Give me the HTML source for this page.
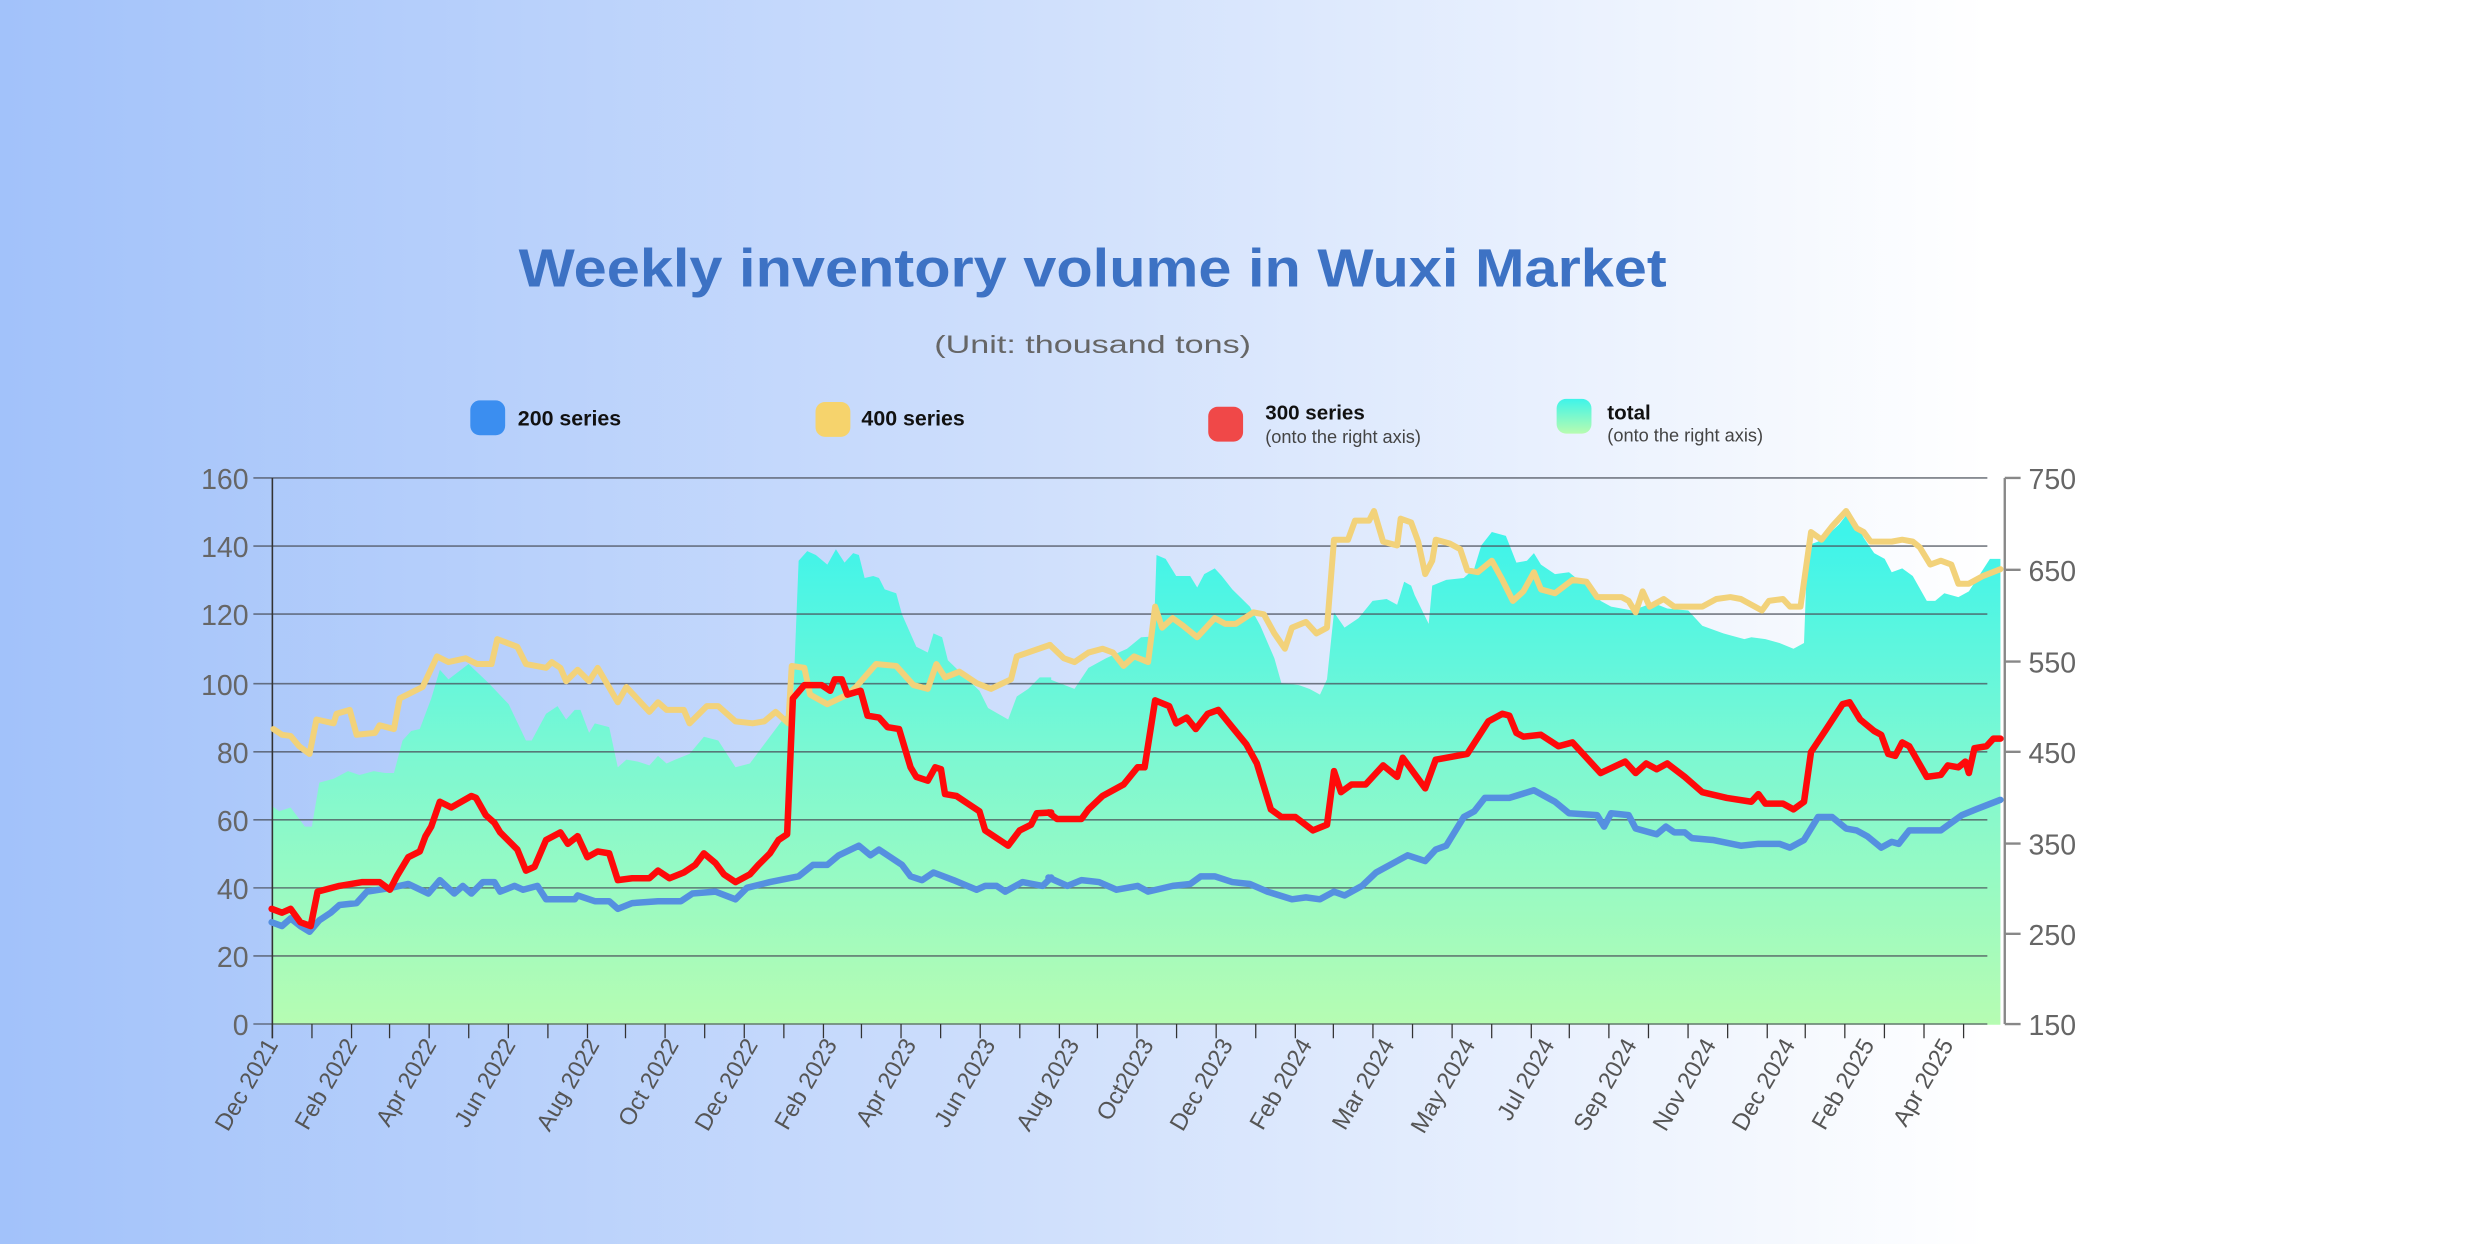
<!DOCTYPE html>
<html><head><meta charset="utf-8"><style>html,body{margin:0;padding:0;overflow:hidden}svg{display:block}</style></head>
<body>
<svg width="2483" height="1244" viewBox="0 0 1568 786" preserveAspectRatio="none" xmlns="http://www.w3.org/2000/svg" font-family="'Liberation Sans', sans-serif">
<defs>
<linearGradient id="bg" x1="0" y1="0" x2="1" y2="0">
<stop offset="0" stop-color="#a2c2fa"/><stop offset="0.4" stop-color="#cddefc"/><stop offset="0.8" stop-color="#ffffff"/><stop offset="1" stop-color="#ffffff"/>
</linearGradient>
<linearGradient id="area" gradientUnits="userSpaceOnUse" x1="0" y1="220" x2="0" y2="1503">
<stop offset="0" stop-color="#3ef4ea"/><stop offset="0.45" stop-color="#7cf8d2"/><stop offset="1" stop-color="#b6fcb2"/>
</linearGradient>
<linearGradient id="leg" x1="0" y1="0" x2="0" y2="1"><stop offset="0" stop-color="#3ef4ea"/><stop offset="1" stop-color="#b8fcb0"/></linearGradient>
</defs>
<rect width="1568" height="786" fill="url(#bg)"/>
<text x="690" y="181" text-anchor="middle" font-size="34" font-weight="bold" fill="#3d72c4" textLength="725" lengthAdjust="spacingAndGlyphs">Weekly inventory volume in Wuxi Market</text>
<text x="690" y="223" text-anchor="middle" font-size="16" fill="#666" textLength="200" lengthAdjust="spacingAndGlyphs">(Unit: thousand tons)</text>
<rect x="297" y="253" width="22" height="22" rx="6" fill="#3b8ef0"/>
<text x="327" y="269" font-size="13.5" font-weight="bold" fill="#111">200 series</text>
<rect x="515" y="254" width="22" height="22" rx="6" fill="#f6d36c"/>
<text x="544" y="269" font-size="13.5" font-weight="bold" fill="#111">400 series</text>
<rect x="763" y="257" width="22" height="22" rx="6" fill="#f04848"/>
<text x="799" y="265" font-size="13" font-weight="bold" fill="#111">300 series</text>
<text x="799" y="280" font-size="11.5" fill="#444">(onto the right axis)</text>
<rect x="983" y="252" width="22" height="22" rx="6" fill="url(#leg)"/>
<text x="1015" y="265" font-size="13" font-weight="bold" fill="#111">total</text>
<text x="1015" y="279" font-size="11.5" fill="#444">(onto the right axis)</text>

<g transform="translate(94.7,284.2) scale(0.3625,0.2417)">
<polygon fill="url(#area)" points="212,930 225,945 245,935 270,985 282,985 295,870 320,860 345,840 365,850 390,840 410,845 425,845 440,760 455,735 470,730 490,650 505,575 520,600 555,560 590,610 625,665 655,760 665,760 690,690 710,670 725,705 740,680 750,680 765,740 775,715 800,725 815,830 830,810 850,815 870,825 885,800 900,820 915,810 940,795 965,750 990,760 1020,830 1045,820 1075,760 1100,710 1120,670 1130,290 1145,265 1160,275 1180,300 1195,260 1210,295 1225,270 1235,275 1245,335 1260,330 1270,335 1280,365 1300,375 1310,430 1335,515 1355,530 1365,480 1380,490 1390,550 1445,630 1460,675 1495,705 1510,645 1530,625 1550,595 1570,595 1570,1503 212,1503"/>
</g>
<g transform="translate(663,284.2) scale(0.443,0.2417)">
<polygon fill="url(#area)" points="0,600 35,625 55,570 80,545 110,520 130,490 148,488 152,275 165,285 180,330 200,330 210,360 220,325 235,310 245,330 260,365 285,410 300,460 320,545 330,610 355,615 370,625 385,640 395,600 405,425 420,465 440,440 460,395 480,390 495,405 505,345 515,355 520,380 540,455 545,355 565,340 590,335 605,310 615,250 630,215 650,225 665,295 680,290 690,270 700,300 720,325 740,320 760,350 775,360 785,395 800,410 830,420 860,400 880,415 910,420 930,460 960,480 990,495 1000,490 1020,495 1040,505 1060,520 1075,505 1080,250 1095,240 1110,220 1125,195 1140,160 1160,230 1175,270 1190,285 1200,320 1215,310 1230,330 1250,395 1262,395 1275,375 1295,385 1310,370 1340,285 1355,285 1355,1503 0,1503"/>
</g>

<g stroke="#4a4f5a" stroke-opacity="0.75" stroke-width="1">
<line x1="160" y1="302" x2="1255" y2="302"/><line x1="160" y1="345" x2="1255" y2="345"/><line x1="160" y1="388" x2="1255" y2="388"/><line x1="160" y1="432" x2="1255" y2="432"/><line x1="160" y1="475" x2="1255" y2="475"/><line x1="160" y1="518" x2="1255" y2="518"/><line x1="160" y1="561" x2="1255" y2="561"/><line x1="160" y1="604" x2="1255" y2="604"/><line x1="160" y1="647" x2="1255" y2="647"/>
</g>
<line x1="172" y1="302" x2="172" y2="656" stroke="#333" stroke-width="1"/>
<line x1="1266" y1="302" x2="1266" y2="647" stroke="#888" stroke-width="1.5"/>
<g stroke="#888" stroke-width="1.5">
<line x1="1266" y1="302" x2="1276" y2="302"/><line x1="1266" y1="360" x2="1276" y2="360"/><line x1="1266" y1="418" x2="1276" y2="418"/><line x1="1266" y1="475" x2="1276" y2="475"/><line x1="1266" y1="533" x2="1276" y2="533"/><line x1="1266" y1="590" x2="1276" y2="590"/><line x1="1266" y1="647" x2="1276" y2="647"/>
</g>
<g font-size="18" fill="#666" text-anchor="end">
<text x="157" y="309">160</text><text x="157" y="352">140</text><text x="157" y="395">120</text><text x="157" y="439">100</text><text x="157" y="482">80</text><text x="157" y="525">60</text><text x="157" y="568">40</text><text x="157" y="611">20</text><text x="157" y="654">0</text>
</g>
<g font-size="18" fill="#666">
<text x="1281" y="309">750</text><text x="1281" y="367">650</text><text x="1281" y="425">550</text><text x="1281" y="482">450</text><text x="1281" y="540">350</text><text x="1281" y="597">250</text><text x="1281" y="654">150</text>
</g>
<g stroke="#333" stroke-width="0.8">
<line x1="172" y1="647" x2="172" y2="656"/><line x1="197" y1="647" x2="197" y2="656"/><line x1="222" y1="647" x2="222" y2="656"/><line x1="246" y1="647" x2="246" y2="656"/><line x1="271" y1="647" x2="271" y2="656"/><line x1="296" y1="647" x2="296" y2="656"/><line x1="321" y1="647" x2="321" y2="656"/><line x1="346" y1="647" x2="346" y2="656"/><line x1="371" y1="647" x2="371" y2="656"/><line x1="395" y1="647" x2="395" y2="656"/><line x1="420" y1="647" x2="420" y2="656"/><line x1="445" y1="647" x2="445" y2="656"/><line x1="470" y1="647" x2="470" y2="656"/><line x1="495" y1="647" x2="495" y2="656"/><line x1="520" y1="647" x2="520" y2="656"/><line x1="544" y1="647" x2="544" y2="656"/><line x1="569" y1="647" x2="569" y2="656"/><line x1="594" y1="647" x2="594" y2="656"/><line x1="619" y1="647" x2="619" y2="656"/><line x1="644" y1="647" x2="644" y2="656"/><line x1="669" y1="647" x2="669" y2="656"/><line x1="693" y1="647" x2="693" y2="656"/><line x1="718" y1="647" x2="718" y2="656"/><line x1="743" y1="647" x2="743" y2="656"/><line x1="768" y1="647" x2="768" y2="656"/><line x1="793" y1="647" x2="793" y2="656"/><line x1="818" y1="647" x2="818" y2="656"/><line x1="842" y1="647" x2="842" y2="656"/><line x1="867" y1="647" x2="867" y2="656"/><line x1="892" y1="647" x2="892" y2="656"/><line x1="917" y1="647" x2="917" y2="656"/><line x1="942" y1="647" x2="942" y2="656"/><line x1="967" y1="647" x2="967" y2="656"/><line x1="991" y1="647" x2="991" y2="656"/><line x1="1016" y1="647" x2="1016" y2="656"/><line x1="1041" y1="647" x2="1041" y2="656"/><line x1="1066" y1="647" x2="1066" y2="656"/><line x1="1091" y1="647" x2="1091" y2="656"/><line x1="1116" y1="647" x2="1116" y2="656"/><line x1="1140" y1="647" x2="1140" y2="656"/><line x1="1165" y1="647" x2="1165" y2="656"/><line x1="1190" y1="647" x2="1190" y2="656"/><line x1="1215" y1="647" x2="1215" y2="656"/><line x1="1240" y1="647" x2="1240" y2="656"/>
</g>
<g font-size="15" fill="#555" text-anchor="end">
<text transform="translate(176,660) rotate(-60)">Dec 2021</text>
<text transform="translate(226,660) rotate(-60)">Feb 2022</text>
<text transform="translate(276,660) rotate(-60)">Apr 2022</text>
<text transform="translate(326,660) rotate(-60)">Jun 2022</text>
<text transform="translate(379,660) rotate(-60)">Aug 2022</text>
<text transform="translate(429,660) rotate(-60)">Oct 2022</text>
<text transform="translate(479,660) rotate(-60)">Dec 2022</text>
<text transform="translate(529,660) rotate(-60)">Feb 2023</text>
<text transform="translate(579,660) rotate(-60)">Apr 2023</text>
<text transform="translate(629,660) rotate(-60)">Jun 2023</text>
<text transform="translate(682,660) rotate(-60)">Aug 2023</text>
<text transform="translate(729,660) rotate(-60)">Oct2023</text>
<text transform="translate(779,660) rotate(-60)">Dec 2023</text>
<text transform="translate(829,660) rotate(-60)">Feb 2024</text>
<text transform="translate(881,660) rotate(-60)">Mar 2024</text>
<text transform="translate(932,660) rotate(-60)">May 2024</text>
<text transform="translate(982,660) rotate(-60)">Jul 2024</text>
<text transform="translate(1034,660) rotate(-60)">Sep 2024</text>
<text transform="translate(1084,660) rotate(-60)">Nov 2024</text>
<text transform="translate(1134,660) rotate(-60)">Dec 2024</text>
<text transform="translate(1184,660) rotate(-60)">Feb 2025</text>
<text transform="translate(1234,660) rotate(-60)">Apr 2025</text>
</g>

<g transform="translate(94.7,284.2) scale(0.3625,0.2417)" fill="none" stroke-linejoin="round" stroke-linecap="round">
<polyline vector-effect="non-scaling-stroke" stroke="#f2d27a" stroke-width="6" points="215,730 230,745 245,748 260,775 278,795 290,705 320,715 325,690 348,680 360,745 392,740 400,720 425,730 435,650 475,620 500,540 520,555 550,545 570,560 595,560 605,495 640,515 655,560 690,570 700,555 715,570 725,605 745,575 765,605 780,570 815,660 830,620 870,685 885,660 900,680 930,680 940,715 970,670 990,670 1020,710 1050,715 1070,710 1090,685 1112,715 1118,565 1140,570 1150,640 1180,665 1215,640 1230,620 1265,560 1300,565 1330,615 1355,625 1370,560 1385,595 1410,580 1440,610 1465,625 1500,600 1510,540 1568,510"/>
<polyline vector-effect="non-scaling-stroke" stroke="#5590e0" stroke-width="6.5" points="212,1235 230,1245 245,1225 262,1245 278,1260 295,1230 315,1210 330,1190 360,1185 378,1155 400,1150 420,1145 450,1135 485,1160 505,1125 530,1160 545,1140 560,1160 580,1130 600,1130 610,1155 635,1140 650,1150 675,1140 690,1175 740,1175 745,1165 775,1180 800,1180 815,1200 840,1185 885,1180 925,1180 945,1160 985,1155 1020,1175 1040,1145 1080,1130 1130,1115 1155,1085 1180,1085 1200,1060 1235,1035 1255,1060 1270,1045 1310,1085 1325,1115 1345,1125 1365,1105 1400,1125 1440,1150 1455,1140 1475,1140 1490,1155 1520,1130 1555,1140 1570,1118"/>
<polyline vector-effect="non-scaling-stroke" stroke="#ff0a0a" stroke-width="6.5" points="212,1200 230,1210 245,1200 262,1235 280,1245 292,1155 330,1140 370,1130 400,1130 418,1150 430,1115 450,1065 470,1050 480,1010 490,985 505,920 525,935 560,905 568,910 585,955 600,975 610,1000 640,1045 655,1100 670,1090 690,1020 715,1000 728,1030 745,1010 762,1065 780,1050 800,1055 815,1125 840,1120 870,1120 885,1100 905,1120 930,1105 950,1085 965,1055 985,1080 1000,1110 1020,1130 1045,1110 1060,1085 1080,1055 1095,1020 1110,1005 1120,650 1140,615 1170,615 1185,630 1193,600 1205,600 1215,640 1238,630 1250,695 1270,700 1285,725 1305,730 1325,830 1335,855 1355,865 1368,830 1378,835 1385,900 1405,905 1425,925 1445,945 1455,995 1495,1035 1515,995 1535,980 1545,950 1570,948"/>
</g>
<g transform="translate(663,284.2) scale(0.443,0.2417)" fill="none" stroke-linejoin="round" stroke-linecap="round">
<polyline vector-effect="non-scaling-stroke" stroke="#f2d27a" stroke-width="6" points="0,510 20,545 35,555 55,530 75,520 90,530 105,565 120,540 140,555 150,410 160,465 175,440 190,460 210,490 235,440 250,455 265,455 290,425 305,430 320,480 335,520 345,465 365,450 380,480 395,465 405,235 425,235 435,185 455,185 462,160 475,240 495,250 500,180 515,190 525,240 535,325 545,290 550,235 570,245 585,260 595,315 610,320 630,290 645,340 660,395 675,370 690,320 700,365 720,375 745,340 765,345 780,385 800,385 815,385 825,395 835,425 845,370 855,410 875,390 890,410 910,410 930,410 950,390 970,385 985,390 1000,405 1015,420 1025,395 1045,390 1055,410 1070,410 1085,215 1100,235 1115,200 1135,160 1150,205 1160,215 1170,240 1200,240 1215,235 1230,240 1240,255 1255,300 1270,290 1285,300 1295,350 1310,350 1330,330 1355,312"/>
<polyline vector-effect="non-scaling-stroke" stroke="#5590e0" stroke-width="6.5" points="-2,1118 25,1140 45,1125 70,1130 95,1150 125,1140 140,1155 175,1140 200,1135 215,1115 235,1115 260,1130 285,1135 310,1155 345,1175 365,1170 385,1175 405,1155 420,1165 445,1140 465,1105 510,1060 535,1075 550,1045 565,1035 590,960 605,945 620,910 655,910 690,890 720,920 740,950 780,955 790,985 800,950 825,955 835,990 865,1005 878,985 890,1000 905,1000 915,1015 945,1020 985,1035 1010,1030 1040,1030 1055,1040 1075,1020 1095,960 1115,960 1135,990 1150,995 1165,1010 1185,1040 1200,1025 1210,1030 1225,995 1270,995 1300,955 1320,940 1355,915"/>
<polyline vector-effect="non-scaling-stroke" stroke="#ff0a0a" stroke-width="6.5" points="-2,948 10,965 45,965 55,940 75,905 105,875 125,830 135,830 150,655 170,670 180,715 195,700 208,730 225,690 240,680 260,725 280,770 295,820 315,940 330,960 350,960 375,995 395,980 405,840 415,895 430,875 450,875 475,825 495,855 503,805 535,885 550,810 595,795 625,710 645,690 655,695 665,740 675,750 700,745 725,775 745,765 785,845 820,815 835,845 850,820 865,835 880,820 905,855 930,895 965,910 1000,920 1010,900 1020,925 1045,925 1060,940 1075,920 1085,790 1105,735 1130,665 1140,660 1155,705 1175,735 1185,745 1195,795 1205,800 1215,765 1225,775 1250,855 1270,850 1280,825 1295,830 1305,815 1310,845 1318,780 1335,775 1345,755 1355,755"/>
</g>
</svg>
</body></html>
